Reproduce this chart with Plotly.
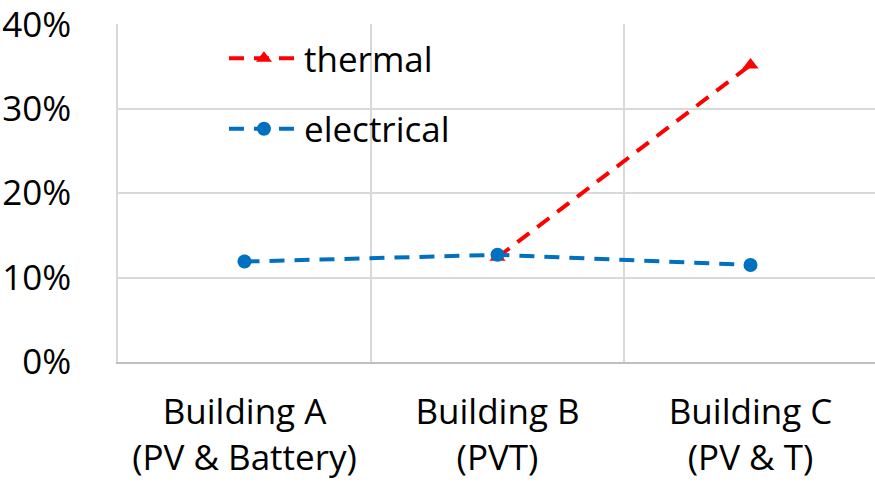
import plotly.graph_objects as go

# ── Data ──────────────────────────────────────────────────────────────────────
buildings = ["Building A<br>(PV & Battery)", "Building B<br>(PVT)", "Building C<br>(PV & T)"]
thermal = [None, 12.4, 35.2]
electrical = [11.9, 12.7, 11.5]
y_ticks = [0, 10, 20, 30, 40]
y_labels = ["0%", "10%", "20%", "30%", "40%"]

RED = "#FF0000"
BLUE = "#0070C0"
GRID = "#D9D9D9"
FONT = "Open Sans"
DASH = "15px,10px"

fig = go.Figure()

fig.add_trace(go.Scatter(
    x=buildings, y=thermal, name="thermal", legendgroup="t",
    mode="lines+markers", connectgaps=False,
    line=dict(color=RED, width=4, dash=DASH),
    marker=dict(symbol="triangle-up", size=14, color=RED),
))
fig.add_trace(go.Scatter(
    x=buildings, y=electrical, name="electrical", legendgroup="e",
    mode="lines+markers",
    line=dict(color=BLUE, width=4, dash=DASH),
    marker=dict(symbol="circle", size=14, color=BLUE),
))

fig.update_layout(
    width=875, height=490,
    paper_bgcolor="white", plot_bgcolor="white",
    font=dict(family=FONT, color="black", size=35),
    margin=dict(l=118, r=0, t=19, b=128),
    legend=dict(
        x=0.14, y=0.985, xanchor="left", yanchor="top",
        bgcolor="rgba(0,0,0,0)", font=dict(size=35),
        traceorder="grouped", tracegroupgap=22, itemwidth=70,
    ),
)
fig.update_xaxes(
    type="category", range=[-0.5, 2.492],
    tickson="boundaries", showgrid=True, gridcolor=GRID, gridwidth=1.5,
    ticks="", showline=True, linecolor="#BFBFBF", linewidth=2,
    zeroline=False, tickfont=dict(size=35), ticklabelstandoff=18,
)
fig.update_yaxes(
    range=[0, 40.05], tickmode="array", tickvals=y_ticks, ticktext=y_labels,
    showgrid=True, gridcolor=GRID, gridwidth=1.5,
    showline=True, linecolor=GRID, linewidth=1.5,
    zeroline=False, ticks="", tickfont=dict(size=35),
    ticklabelstandoff=38, ticklabeloverflow="allow",
)

fig.write_html("out.html", config={"displayModeBar": False},
               post_script="document.body.style.margin='0';")
